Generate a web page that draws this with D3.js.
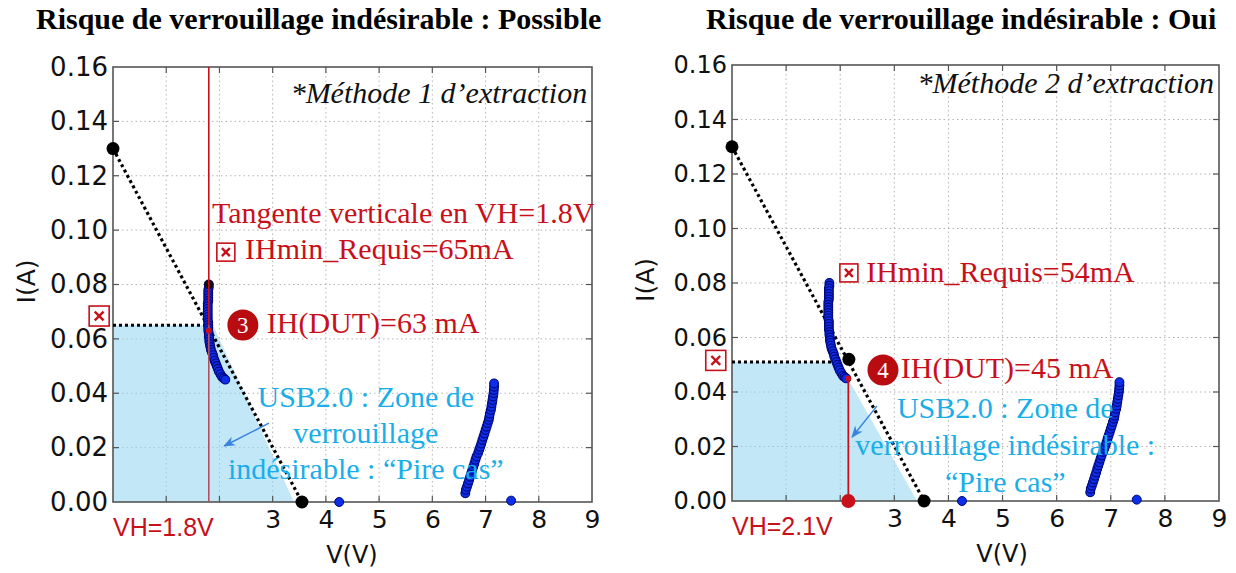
<!DOCTYPE html>
<html>
<head>
<meta charset="utf-8">
<script src="https://cdn.jsdelivr.net/npm/d3@7"></script>
<style>
  body { margin: 0; background: #fff; }
  svg { display: block; }
</style>
</head>
<body>
<svg id="chart" width="1236" height="573"></svg>
<script>
// ---- Axis ticks ----
const vGridLines = [1, 2, 3, 4, 5, 6, 7, 8];
const vTickLabels = [3, 4, 5, 6, 7, 8, 9];
const iTicks = [0, 0.02, 0.04, 0.06, 0.08, 0.10, 0.12, 0.14, 0.16];

// ---- Measured DUT I-V points (same device in both panels) ----
// snapback branch around the holding voltage, top to bottom
const lowBranchV = [1.80, 1.80, 1.79, 1.79, 1.79, 1.79, 1.79, 1.78, 1.78, 1.78, 1.78, 1.78, 1.78, 1.78, 1.79, 1.79, 1.79, 1.79, 1.80, 1.80, 1.81, 1.81, 1.82, 1.83, 1.84, 1.86, 1.88, 1.89, 1.91, 1.93, 1.95, 1.97, 1.99, 2.02, 2.05, 2.08, 2.11];
const lowBranchI = [0.080, 0.079, 0.078, 0.077, 0.076, 0.075, 0.074, 0.073, 0.072, 0.071, 0.070, 0.069, 0.068, 0.067, 0.066, 0.065, 0.064, 0.063, 0.062, 0.061, 0.060, 0.059, 0.058, 0.057, 0.056, 0.055, 0.054, 0.053, 0.052, 0.051, 0.050, 0.049, 0.048, 0.047, 0.046, 0.0455, 0.045];
// high-voltage branch, bottom to top
const highBranchV = [6.62, 6.63, 6.65, 6.67, 6.69, 6.71, 6.73, 6.75, 6.77, 6.79, 6.81, 6.83, 6.86, 6.88, 6.90, 6.92, 6.94, 6.96, 6.98, 7.00, 7.02, 7.04, 7.06, 7.07, 7.08, 7.10, 7.11, 7.12, 7.13, 7.14, 7.15, 7.155, 7.16, 7.16];
const highBranchI = [0.0032, 0.0045, 0.0056, 0.0068, 0.008, 0.0093, 0.0105, 0.0118, 0.013, 0.0142, 0.0155, 0.0167, 0.018, 0.0192, 0.0203, 0.0215, 0.0228, 0.024, 0.0252, 0.0265, 0.0277, 0.029, 0.0302, 0.0313, 0.0325, 0.0338, 0.035, 0.0363, 0.0375, 0.0388, 0.040, 0.0412, 0.0424, 0.0436];
// isolated points on the V axis
const strayV = [4.25, 7.48];
const strayI = [0.0, 0.0005];

// ---- USB2.0 load line ----
const loadLineV = [0, 3.55];
const loadLineI = [0.13, 0];

// ---- Per-panel values ----
const panelTitles = ["Risque de verrouillage indésirable : Possible", "Risque de verrouillage indésirable : Oui"];
const methodLabels = ["*Méthode 1 d’extraction", "*Méthode 2 d’extraction"];
const vhValues = [1.8, 2.15];
const vhLabels = ["VH=1.8V", "VH=2.1V"];
const ihLevels = [0.065, 0.051];
const ihLevelEndV = [1.88, 1.90];
const ihDutValues = [0.063, 0.045];
const ihRequiredLabels = ["IHmin_Requis=65mA", "IHmin_Requis=54mA"];
const ihDutLabels = ["IH(DUT)=63 mA", "IH(DUT)=45 mA"];
const stepNumbers = ["3", "4"];
const zoneV = [[0, 0, 1.88, 3.40], [0, 0, 1.90, 2.14, 3.42]];
const zoneI = [[0, 0.065, 0.065, 0], [0, 0.051, 0.051, 0.045, 0]];
const zoneTextLines = [
  ["USB2.0 : Zone de", "verrouillage", "indésirable : “Pire cas”"],
  ["USB2.0 : Zone de", "verrouillage indésirable :", "“Pire cas”"]
];
const loadLineMarkV = [null, 2.16];
const loadLineMarkI = [null, 0.052];

// ---- Layout (pixel frames and annotation anchors in data units) ----
const frames = [
  { left: 113, right: 592, top: 67, bottom: 502, tickFont: 26 },
  { left: 732, right: 1219, top: 65, bottom: 501, tickFont: 24 }
];
const notes = [
  { methodAt: [8.91, 0.1467], tangentAt: [1.86, 0.1026], iconAt: [2.12, 0.0919], reqAt: [2.48, 0.0894],
    badgeAt: [2.44, 0.0651], dutAt: [2.89, 0.0622], zoneX: 4.75, zoneBase: [0.0349, 0.0217, 0.0085],
    arrow: [[2.93, 0.029], [2.09, 0.0206]], outsideBox: [-0.26, 0.0684], vLabelAt: 4.49, titleX: 36 },
  { methodAt: [8.91, 0.1497], tangentAt: null, iconAt: [2.16, 0.0837], reqAt: [2.48, 0.0804],
    badgeAt: [2.79, 0.0481], dutAt: [3.12, 0.0451], zoneX: 5.05, zoneBase: [0.0305, 0.0169, 0.0033],
    arrow: [[2.68, 0.0349], [2.22, 0.0235]], outsideBox: [-0.30, 0.0516], vLabelAt: 4.99, titleX: 706 }
];

const RED = "#c8101a";
const CYAN = "#1aaee8";
const SERIF = "'Liberation Serif', 'Times New Roman', serif";
const SANS = "'DejaVu Sans', sans-serif";

const svg = d3.select("#chart");
const defs = svg.append("defs");
defs.append("marker")
  .attr("id", "arrowHead")
  .attr("viewBox", "0 0 10 10").attr("refX", 9).attr("refY", 5)
  .attr("markerWidth", 8).attr("markerHeight", 8)
  .attr("orient", "auto-start-reverse")
  .append("path").attr("d", "M0,1 L10,5 L0,9 L3,5 Z").attr("fill", "#3a84e0");

function boxX(g, cx, cy, s) {
  g.append("rect").attr("x", cx - s / 2).attr("y", cy - s / 2).attr("width", s).attr("height", s)
    .attr("fill", "#fff").attr("stroke", RED).attr("stroke-width", 1.6);
  const d = s * 0.22;
  g.append("path").attr("d", `M${cx - d},${cy - d}L${cx + d},${cy + d}M${cx + d},${cy - d}L${cx - d},${cy + d}`)
    .attr("stroke", RED).attr("stroke-width", 2.4).attr("fill", "none");
}

function drawPanel(k) {
  const f = frames[k], n = notes[k];
  const x = d3.scaleLinear().domain([0, 9]).range([f.left, f.right]);
  const y = d3.scaleLinear().domain([0, 0.16]).range([f.bottom, f.top]);
  const g = svg.append("g");

  // title
  g.append("text").attr("x", n.titleX).attr("y", 29)
    .attr("font-family", SERIF).attr("font-weight", "bold").attr("font-size", 30)
    .text(panelTitles[k]);

  // grid
  g.append("g").selectAll("line").data(vGridLines).join("line")
    .attr("x1", d => x(d)).attr("x2", d => x(d)).attr("y1", f.top).attr("y2", f.bottom)
    .attr("stroke", "#b4b4b4").attr("stroke-width", 1).attr("stroke-dasharray", "1.5,3");
  g.append("g").selectAll("line").data(iTicks.slice(1, -1)).join("line")
    .attr("y1", d => y(d)).attr("y2", d => y(d)).attr("x1", f.left).attr("x2", f.right)
    .attr("stroke", "#b4b4b4").attr("stroke-width", 1).attr("stroke-dasharray", "1.5,3");

  // latch-up zone fill
  const zonePts = zoneV[k].map((v, i) => [x(v), y(zoneI[k][i])]);
  g.append("path").attr("d", d3.line()(zonePts) + "Z")
    .attr("fill", "#8fd3f0").attr("fill-opacity", 0.55);

  // frame
  g.append("rect").attr("x", f.left).attr("y", f.top).attr("width", f.right - f.left).attr("height", f.bottom - f.top)
    .attr("fill", "none").attr("stroke", "#555").attr("stroke-width", 1.6);
  // inward ticks on all four sides
  const tk = g.append("g").attr("stroke", "#555").attr("stroke-width", 1.2);
  vGridLines.forEach(v => {
    tk.append("line").attr("x1", x(v)).attr("x2", x(v)).attr("y1", f.bottom).attr("y2", f.bottom - 6);
    tk.append("line").attr("x1", x(v)).attr("x2", x(v)).attr("y1", f.top).attr("y2", f.top + 6);
  });
  iTicks.slice(1, -1).forEach(v => {
    tk.append("line").attr("y1", y(v)).attr("y2", y(v)).attr("x1", f.left).attr("x2", f.left + 6);
    tk.append("line").attr("y1", y(v)).attr("y2", y(v)).attr("x1", f.right).attr("x2", f.right - 6);
  });

  // tick labels via axes
  const xAxis = d3.axisBottom(x).tickValues(vTickLabels).tickSize(0).tickPadding(8).tickFormat(d3.format("d"));
  const xa = g.append("g").attr("transform", `translate(0,${f.bottom})`).call(xAxis);
  const yAxis = d3.axisLeft(y).tickValues(iTicks).tickSize(0).tickPadding(5).tickFormat(d3.format(".2f"));
  const ya = g.append("g").attr("transform", `translate(${f.left},0)`).call(yAxis);
  [xa, ya].forEach(a => {
    a.select(".domain").remove();
    a.selectAll("text").attr("font-family", SANS).attr("font-size", f.tickFont).attr("fill", "#111");
  });
  xa.selectAll("text").attr("font-size", 25);

  // axis titles
  g.append("text").attr("x", x(n.vLabelAt)).attr("y", f.bottom + 61).attr("text-anchor", "middle")
    .attr("font-family", SANS).attr("font-size", 24).attr("fill", "#111").text("V(V)");
  g.append("text").attr("transform", `translate(${f.left - 87},${(f.top + f.bottom) / 2 - 3}) rotate(-90)`)
    .attr("text-anchor", "middle").attr("dy", "0.35em")
    .attr("font-family", SANS).attr("font-size", 25).attr("fill", "#111").text("I(A)");

  // VH label
  g.append("text").attr("x", x(0)).attr("y", f.bottom + 34)
    .attr("font-family", "'Liberation Sans', Arial, sans-serif").attr("font-size", 25).attr("fill", RED)
    .text(vhLabels[k]);

  // load line
  const ll = loadLineV.map((v, i) => [x(v), y(loadLineI[i])]);
  g.append("path").attr("d", d3.line()(ll)).attr("stroke", "#000").attr("stroke-width", 3.2)
    .attr("stroke-dasharray", "3,3").attr("fill", "none");

  // IH level dotted line
  g.append("line").attr("x1", x(0)).attr("x2", x(ihLevelEndV[k])).attr("y1", y(ihLevels[k])).attr("y2", y(ihLevels[k]))
    .attr("stroke", "#000").attr("stroke-width", 3).attr("stroke-dasharray", "3,3");

  // DUT curve
  const blueLine = d3.line();
  const low = lowBranchV.map((v, i) => [x(v), y(lowBranchI[i])]);
  const high = highBranchV.map((v, i) => [x(v), y(highBranchI[i])]);
  [low, high].forEach(pts => {
    g.append("path").attr("d", blueLine(pts)).attr("stroke", "#000a90").attr("stroke-width", 6)
      .attr("stroke-linecap", "round").attr("fill", "none");
    g.append("g").selectAll("circle").data(pts).join("circle")
      .attr("cx", d => d[0]).attr("cy", d => d[1]).attr("r", 4.4)
      .attr("fill", "#0c2ee6").attr("stroke", "#00067a").attr("stroke-width", 1.1);
  });
  if (k === 0) {
    g.append("circle").attr("cx", low[0][0]).attr("cy", low[0][1]).attr("r", 4.6).attr("fill", "#111");
  }
  g.append("g").selectAll("circle").data(strayV).join("circle")
    .attr("cx", d => x(d)).attr("cy", (d, i) => y(strayI[i])).attr("r", 4.5)
    .attr("fill", "#0c2ee6").attr("stroke", "#00067a");

  // holding-voltage lines
  if (k === 0) {
    // vertical tangent: bright above the zone, blended where it crosses the fill
    g.append("line").attr("x1", x(vhValues[k])).attr("x2", x(vhValues[k]))
      .attr("y1", y(ihLevels[k])).attr("y2", y(0.16)).attr("stroke", RED).attr("stroke-width", 1.6);
    g.append("line").attr("x1", x(vhValues[k])).attr("x2", x(vhValues[k]))
      .attr("y1", y(0)).attr("y2", y(ihLevels[k])).attr("stroke", "#b4505e").attr("stroke-width", 1.6);
    g.append("circle").attr("cx", x(vhValues[k])).attr("cy", y(ihDutValues[k])).attr("r", 3).attr("fill", RED);
  } else {
    g.append("line").attr("x1", x(vhValues[k])).attr("x2", x(vhValues[k]))
      .attr("y1", y(0)).attr("y2", y(ihDutValues[k])).attr("stroke", RED).attr("stroke-width", 1.8);
    g.append("circle").attr("cx", x(vhValues[k])).attr("cy", y(ihDutValues[k])).attr("r", 3).attr("fill", RED);
    g.append("circle").attr("cx", x(vhValues[k])).attr("cy", y(0)).attr("r", 7).attr("fill", RED);
  }

  // load line end points
  ll.forEach(p => g.append("circle").attr("cx", p[0]).attr("cy", p[1]).attr("r", 6.5).attr("fill", "#000"));
  if (loadLineMarkV[k] !== null) {
    g.append("circle").attr("cx", x(loadLineMarkV[k])).attr("cy", y(loadLineMarkI[k])).attr("r", 6.5).attr("fill", "#000");
  }

  // boxed-x markers
  boxX(g, x(n.outsideBox[0]), y(n.outsideBox[1]), 20);
  boxX(g, x(n.iconAt[0]), y(n.iconAt[1]), 18);

  // text annotations
  const serifText = (at, txt, color, anchor, italic) => g.append("text")
    .attr("x", x(at[0])).attr("y", y(at[1])).attr("text-anchor", anchor || "start")
    .attr("font-family", SERIF).attr("font-size", 30).attr("fill", color)
    .attr("font-style", italic ? "italic" : "normal").text(txt);

  serifText(n.methodAt, methodLabels[k], "#111", "end", true);
  if (n.tangentAt) serifText(n.tangentAt, "Tangente verticale en " + vhLabels[k], RED);
  serifText(n.reqAt, ihRequiredLabels[k], RED);
  serifText(n.dutAt, ihDutLabels[k], RED);

  g.append("circle").attr("cx", x(n.badgeAt[0])).attr("cy", y(n.badgeAt[1])).attr("r", 15.5).attr("fill", "#b80c10");
  g.append("text").attr("x", x(n.badgeAt[0])).attr("y", y(n.badgeAt[1]) + 8).attr("text-anchor", "middle")
    .attr("font-family", SERIF).attr("font-size", 23).attr("fill", "#fff").text(stepNumbers[k]);

  // zone description
  zoneTextLines[k].forEach((t, i) => {
    g.append("text").attr("x", x(n.zoneX)).attr("y", y(n.zoneBase[i])).attr("text-anchor", "middle")
      .attr("font-family", SERIF).attr("font-size", 30).attr("fill", CYAN).text(t);
  });
  g.append("line").attr("x1", x(n.arrow[0][0])).attr("y1", y(n.arrow[0][1]))
    .attr("x2", x(n.arrow[1][0])).attr("y2", y(n.arrow[1][1]))
    .attr("stroke", "#3a84e0").attr("stroke-width", 1.5).attr("marker-end", "url(#arrowHead)");
}

drawPanel(0);
drawPanel(1);
</script>
</body>
</html>
